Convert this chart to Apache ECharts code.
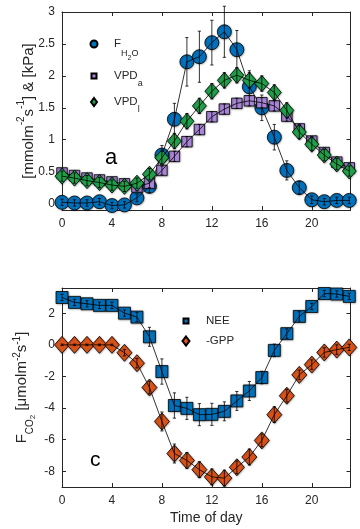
<!DOCTYPE html>
<html>
<head>
<meta charset="utf-8">
<script src="https://cdn.jsdelivr.net/npm/echarts@6/dist/echarts.min.js"></script>
<style>
  html, body { margin: 0; padding: 0; background: #fff; }
  #chart { width: 360px; height: 529px; }
</style>
</head>
<body>
<div id="chart"></div>
<script>
// hours of the day (x values)
var hours = [0, 1, 2, 3, 4, 5, 6, 7, 8, 9, 10, 11, 12, 13, 14, 15, 16, 17, 18, 19, 20, 21, 22, 23];
var xTicks = [0, 4, 8, 12, 16, 20];

// panel a
var fh2o    = [0.02, 0.01, 0.01, 0.03, -0.03, -0.02, 0.09, 0.27, 0.76, 1.32, 2.22, 2.30, 2.52, 2.69, 2.41, 1.83, 1.50, 1.04, 0.52, 0.25, 0.06, 0.03, 0.05, 0.05];
var fh2oErr = [0.05, 0.05, 0.05, 0.05, 0.05, 0.05, 0.06, 0.10, 0.15, 0.25, 0.38, 0.40, 0.35, 0.40, 0.30, 0.25, 0.20, 0.20, 0.15, 0.10, 0.06, 0.05, 0.05, 0.05];
var vpda    = [0.48, 0.44, 0.40, 0.37, 0.34, 0.31, 0.26, 0.32, 0.52, 0.74, 0.97, 1.16, 1.36, 1.48, 1.57, 1.61, 1.58, 1.53, 1.37, 1.17, 0.98, 0.80, 0.65, 0.56];
var vpdaErr = [0.06, 0.06, 0.06, 0.06, 0.06, 0.06, 0.06, 0.07, 0.07, 0.08, 0.08, 0.08, 0.08, 0.08, 0.08, 0.08, 0.08, 0.08, 0.08, 0.07, 0.07, 0.06, 0.06, 0.06];
var vpdl    = [0.43, 0.40, 0.36, 0.33, 0.29, 0.27, 0.32, 0.46, 0.72, 0.98, 1.29, 1.53, 1.76, 1.93, 2.01, 1.93, 1.88, 1.74, 1.46, 1.12, 0.93, 0.76, 0.62, 0.51];
var vpdlErr = [0.08, 0.08, 0.08, 0.08, 0.08, 0.08, 0.08, 0.09, 0.10, 0.12, 0.12, 0.12, 0.12, 0.12, 0.12, 0.12, 0.12, 0.12, 0.12, 0.10, 0.10, 0.09, 0.09, 0.08];
var yTicksA = [0, 0.5, 1, 1.5, 2, 2.5, 3];

// panel c
var nee     = [3.00, 2.69, 2.60, 2.50, 2.50, 2.01, 1.76, 0.51, -1.69, -3.84, -4.02, -4.42, -4.40, -4.21, -3.55, -2.92, -2.07, -0.35, 0.71, 1.80, 2.43, 3.25, 3.22, 3.07];
var neeErr  = [0.20, 0.20, 0.20, 0.20, 0.20, 0.20, 0.30, 0.60, 0.80, 0.80, 0.70, 0.70, 0.70, 0.60, 0.60, 0.60, 0.40, 0.40, 0.30, 0.30, 0.20, 0.20, 0.20, 0.20];
var gpp     = [0, 0, 0, 0, 0, -0.50, -1.16, -2.70, -4.85, -6.88, -7.32, -7.90, -8.36, -8.44, -7.75, -7.10, -6.05, -4.42, -3.22, -1.90, -1.25, -0.48, -0.30, -0.16];
var gppErr  = [0.05, 0.05, 0.05, 0.05, 0.05, 0.20, 0.30, 0.40, 0.60, 0.60, 0.50, 0.50, 0.50, 0.50, 0.40, 0.50, 0.40, 0.50, 0.40, 0.30, 0.30, 0.30, 0.30, 0.20];
var yTicksC = [-8, -6, -4, -2, 0, 2];

var FONT = 'Liberation Sans, Arial, Helvetica, sans-serif';
var INK = '#262626';

function pts(vals) {
    return hours.map(function (h, i) { return [h, vals[i]]; });
}
function errPts(vals, errs) {
    return hours.map(function (h, i) { return [h, vals[i], errs[i]]; });
}

// vertical error bar with small caps
function errRender(params, api) {
    var x = api.value(0), y = api.value(1), e = api.value(2);
    var lo = api.coord([x, y - e]);
    var hi = api.coord([x, y + e]);
    var cap = 1.6;
    var st = { stroke: '#000', lineWidth: 0.8 };
    return {
        type: 'group',
        children: [
            { type: 'line', shape: { x1: lo[0], y1: lo[1], x2: hi[0], y2: hi[1] }, style: st },
            { type: 'line', shape: { x1: lo[0] - cap, y1: lo[1], x2: lo[0] + cap, y2: lo[1] }, style: st },
            { type: 'line', shape: { x1: hi[0] - cap, y1: hi[1], x2: hi[0] + cap, y2: hi[1] }, style: st }
        ]
    };
}

// marker + connecting line + error bars, drawn in that order
function group(name, vals, errs, axis, symbol, size, color, zBase) {
    return [
        {
            name: name, type: 'scatter', xAxisIndex: axis, yAxisIndex: axis,
            symbol: symbol, symbolSize: size, data: pts(vals), z: zBase, clip: false,
            itemStyle: {
                color: color, borderColor: '#000', borderWidth: 0.8, opacity: 1,
                shadowColor: 'rgba(0,0,0,0.35)', shadowBlur: 2, shadowOffsetX: 0.5, shadowOffsetY: 0.5
            },
            emphasis: { disabled: true }
        },
        {
            name: name + '_line', type: 'line', xAxisIndex: axis, yAxisIndex: axis,
            data: pts(vals), showSymbol: false, z: zBase + 1,
            lineStyle: { color: '#000', width: 0.8 }, emphasis: { disabled: true }
        },
        {
            name: name + '_err', type: 'custom', xAxisIndex: axis, yAxisIndex: axis,
            data: errPts(vals, errs), renderItem: errRender, z: zBase + 2,
            encode: { x: 0, y: 1 }
        }
    ];
}

function xAx(grid, pos, withLabels) {
    return {
        type: 'value', gridIndex: grid, position: pos, min: 0, max: 23.1,
        splitLine: { show: false },
        axisLine: { show: true, onZero: false, lineStyle: { color: INK, width: 1 } },
        axisTick: { show: true, inside: true, length: 4, customValues: xTicks, lineStyle: { color: INK } },
        axisLabel: { show: withLabels, customValues: xTicks, color: INK, fontSize: 12, fontFamily: FONT, margin: 8 }
    };
}
function yAx(grid, pos, min, max, ticks, withLabels) {
    return {
        type: 'value', gridIndex: grid, position: pos, min: min, max: max,
        splitLine: { show: false },
        axisLine: { show: true, onZero: false, lineStyle: { color: INK, width: 1 } },
        axisTick: { show: true, inside: true, length: 4, customValues: ticks, lineStyle: { color: INK } },
        axisLabel: { show: withLabels, customValues: ticks, color: INK, fontSize: 12, fontFamily: FONT, margin: 7 }
    };
}

var xAxes = [xAx(0, 'bottom', true), xAx(0, 'top', false), xAx(1, 'bottom', true), xAx(1, 'top', false)];
xAxes[2].name = 'Time of day';
xAxes[2].nameLocation = 'middle';
xAxes[2].nameGap = 24;
xAxes[2].nameMoveOverlap = false;
xAxes[2].nameTextStyle = { color: INK, fontSize: 14, fontFamily: FONT };

var yAxes = [
    yAx(0, 'left', -0.1, 3, yTicksA, true), yAx(0, 'right', -0.1, 3, yTicksA, false),
    yAx(1, 'left', -9, 3.6, yTicksC, true), yAx(1, 'right', -9, 3.6, yTicksC, false)
];
yAxes[0].name = '{n|[mmolm}{sup|-2}{n|s}{sup|-1}{n|] & [kPa]}';
yAxes[0].nameLocation = 'middle';
yAxes[0].nameGap = 26;
yAxes[0].nameMoveOverlap = false;
yAxes[0].nameTextStyle = {
    color: INK, fontFamily: FONT,
    rich: {
        n: { fontSize: 15, fontFamily: FONT, color: INK, lineHeight: 20, verticalAlign: 'bottom' },
        sup: { fontSize: 10, fontFamily: FONT, color: INK, verticalAlign: 'top' }
    }
};
yAxes[2].name = '{n|F}{s|CO}{ss|2}{n| [μmolm}{sup|-2}{n|s}{sup|-1}{n|]}';
yAxes[2].nameLocation = 'middle';
yAxes[2].nameGap = 25;
yAxes[2].nameMoveOverlap = false;
yAxes[2].nameTextStyle = {
    color: INK, fontFamily: FONT,
    rich: {
        n: { fontSize: 15, fontFamily: FONT, color: INK, lineHeight: 30, verticalAlign: 'middle' },
        sup: { fontSize: 10, fontFamily: FONT, color: INK, verticalAlign: 'top', padding: [5, 0, 0, 0] },
        s: { fontSize: 10, fontFamily: FONT, color: INK, verticalAlign: 'bottom', padding: [0, 0, 2, 0] },
        ss: { fontSize: 8, fontFamily: FONT, color: INK, verticalAlign: 'bottom' }
    }
};

var subRich = {
    n: { fontSize: 11.5, fontFamily: FONT, color: INK, lineHeight: 24, verticalAlign: 'top' },
    s: { fontSize: 9, fontFamily: FONT, color: INK, verticalAlign: 'bottom', padding: [0, 0, 4, 0] },
    ss: { fontSize: 7, fontFamily: FONT, color: INK, verticalAlign: 'bottom' },
    m: { fontSize: 11.5, fontFamily: FONT, color: INK, lineHeight: 18, verticalAlign: 'top' },
    t: { fontSize: 9, fontFamily: FONT, color: INK, verticalAlign: 'bottom' }
};

function leg(name, icon, w, h, cx, top, textX, fmt, padTop) {
    return {
        data: [{ name: name, icon: icon }],
        left: cx - w / 2, top: top, padding: 0,
        itemWidth: w, itemHeight: h, selectedMode: false,
        formatter: function () { return fmt; },
        textStyle: { color: INK, fontSize: 11.5, fontFamily: FONT, rich: subRich,
                     padding: [padTop, 0, 0, textX - (cx - w / 2 + w + 5)] }
    };
}

var option = {
    animation: false,
    backgroundColor: '#fff',
    grid: [
        { left: 62, top: 12, width: 288.5, height: 198 },
        { left: 62, top: 288, width: 288.5, height: 199 }
    ],
    xAxis: xAxes,
    yAxis: yAxes,
    legend: [
        leg('FH2O', 'circle', 7, 7, 93, 38, 113, '{n|F}{s|H}{ss|2}{s|O}', 12),
        leg('VPDa', 'rect', 5, 5, 93, 70, 113, '{m|VPD}{t|a}', 6),
        leg('VPDl', 'diamond', 6, 8, 93, 96, 113, '{m|VPD}{t|l}', 6),
        leg('NEE', 'rect', 5, 5, 185, 315, 205, 'NEE', 0),
        leg('-GPP', 'diamond', 7, 9, 185, 335, 205, '-GPP', 0)
    ],
    graphic: [
        { type: 'text', left: 105, top: 147, style: { text: 'a', font: '22px ' + FONT, fill: '#000' } },
        { type: 'text', left: 90, top: 450, style: { text: 'c', font: '21px ' + FONT, fill: '#000' } }
    ],
    series: [].concat(
        group('FH2O', fh2o, fh2oErr, 0, 'circle', 14, '#0072BD', 2),
        group('VPDa', vpda, vpdaErr, 0, 'rect', 10.5, '#A986D9', 5),
        group('VPDl', vpdl, vpdlErr, 0, 'diamond', [14, 16], '#21A04A', 8),
        group('NEE', nee, neeErr, 2, 'rect', 12, '#0072BD', 2),
        group('-GPP', gpp, gppErr, 2, 'diamond', [15, 17], '#D95319', 5)
    )
};

var chart = echarts.init(document.getElementById('chart'), null, { renderer: 'canvas' });
chart.setOption(option);
</script>
</body>
</html>
